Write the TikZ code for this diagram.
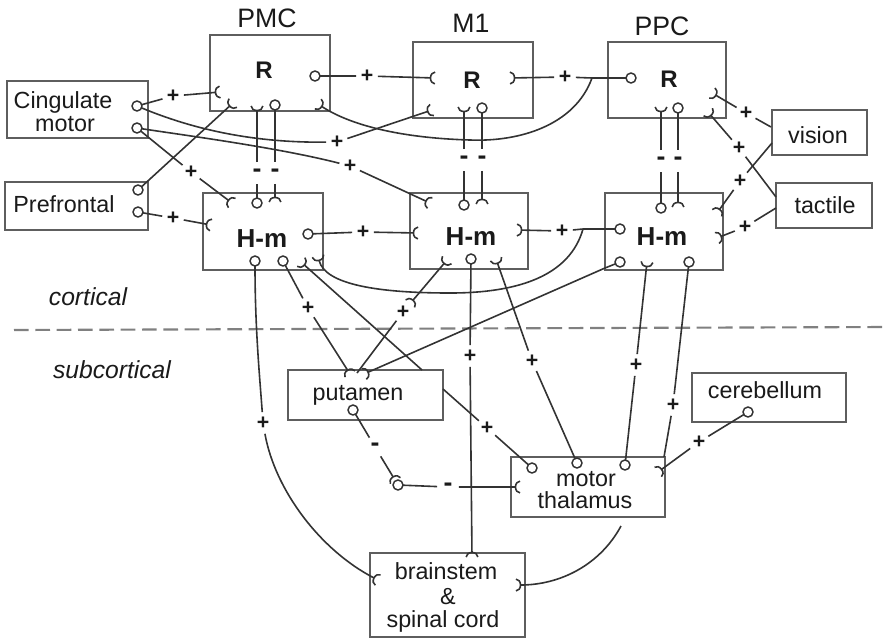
\documentclass[tikz,border=0pt]{standalone}
\usepackage{fontspec}
\setmainfont{Liberation Sans}
\usetikzlibrary{arrows.meta}
\definecolor{ink}{HTML}{333333}
\definecolor{frame}{HTML}{5E5E5E}
\definecolor{txt}{HTML}{1A1A1A}
\definecolor{rule}{HTML}{808080}
\tikzset{
  syn/.tip={Arc Barb[reversed,width=10pt,length=4pt]},
  link/.style={draw=ink,line width=1.2pt,line join=round},
  wire/.style={link,-syn},
  area/.style={draw=frame,line width=1.4pt,fill=white,inner sep=0pt,outer sep=0pt},
  term/.style={circle,draw=ink,line width=1.1pt,fill=white,minimum size=7.5pt,inner sep=0pt,outer sep=0pt},
  sign/.style={circle,inner sep=0pt,minimum size=16pt,text=txt,font=\fontsize{16}{16}\selectfont\bfseries},
  minus/.style={sign,font=\fontsize{20}{20}\selectfont\bfseries},
  lbl/.style={anchor=base,inner sep=0pt,text=txt,font=\fontsize{17.5}{18}\selectfont},
  head/.style={lbl,font=\fontsize{20}{20}\selectfont},
  level/.style={lbl,font=\fontsize{18}{18}\selectfont\bfseries},
  hm/.style={lbl,font=\fontsize{19.5}{20}\selectfont\bfseries},
  region/.style={lbl,font=\fontsize{18.5}{18}\selectfont\itshape},
  divider/.style={draw=rule,line width=1.6pt,dash pattern=on 11pt off 5pt},
}
% box given by its corners (x1,y1) (x2,y2) in pixel units
\newcommand\areabox[5]{\node[area,minimum width={(#4-#2)*0.75pt},minimum height={(#5-#3)*0.75pt}] (#1) at ({(#2+#4)/2},{(#3+#5)/2}) {};}
\begin{document}
\begin{tikzpicture}[x=0.75pt,y=-0.75pt]
\useasboundingbox (0,0) rectangle (888,640);

% cortical / subcortical border
\coordinate (dl) at (14,330);
\coordinate (dr) at (888,327);
\draw[divider] (dl) -- (dr);

% boxes
\areabox{pmcR}{210}{35}{330}{111}
\areabox{mR}{413}{42}{533}{118}
\areabox{ppR}{608}{42}{726}{118}
\areabox{pmcH}{203}{193}{323}{270}
\areabox{mH}{410}{193}{528}{269}
\areabox{ppH}{605}{193}{723}{270}
\areabox{cing}{7}{81}{148}{138}
\areabox{pref}{5}{182}{148}{230}
\areabox{vis}{772}{110}{867}{155}
\areabox{tac}{776}{183}{872}{228}
\areabox{put}{288}{370}{443}{420}
\areabox{cer}{692}{373}{846}{422}
\areabox{thal}{511}{457}{665}{517}
\areabox{bs}{370}{553}{525}{637}

% labels
\node[head] (tPMC) at (267,27) {PMC};
\node[head] (tM1) at (471,32) {M1};
\node[head] (tPPC) at (662,35) {PPC};
\node[level] (r1) at (264,78) {R};
\node[level] (r2) at (472,88) {R};
\node[level] (r3) at (669,87) {R};
\node[hm] (h1) at (262,247) {H-m};
\node[hm] (h2) at (471,245) {H-m};
\node[hm] (h3) at (662,245) {H-m};
\node[lbl] (tc1) at (63,108) {Cingulate};
\node[lbl] (tc2) at (65,131) {motor};
\node[lbl] (tpf) at (64,212) {Prefrontal};
\node[lbl] (tvis) at (818,143) {vision};
\node[lbl] (ttac) at (825,213) {tactile};
\node[lbl] (tput) at (358,400) {putamen};
\node[lbl] (tcer) at (765,398) {cerebellum};
\node[lbl] (tth1) at (586,486) {motor};
\node[lbl] (tth2) at (585,508) {thalamus};
\node[lbl] (tbs1) at (446,579) {brainstem};
\node[lbl] (tbs2) at (448,604) {\&};
\node[lbl] (tbs3) at (443,627) {spinal cord};
\node[region] (tcort) at (88,305) {cortical};
\node[region] (tsub) at (112,378) {subcortical};

% output terminals
\node[term] (cg1) at (137,106) {};
\node[term] (cg2) at (137,128) {};
\node[term] (pf1) at (138,190) {};
\node[term] (pf2) at (138,212) {};
\node[term] (pmcRo) at (315,76) {};
\node[term] (pmcRb) at (275,105) {};
\node[term] (mRb) at (482,108) {};
\node[term] (ppRo) at (631,78) {};
\node[term] (ppRb) at (678,108) {};
\node[term] (pmcHt) at (257,203) {};
\node[term] (pmcHo) at (308,234) {};
\node[term] (pmcHb1) at (255,261) {};
\node[term] (pmcHb2) at (283,261) {};
\node[term] (mHt) at (464,205) {};
\node[term] (mHb) at (471,259) {};
\node[term] (ppHo) at (620,229) {};
\node[term] (ppHt) at (661,208) {};
\node[term] (ppHb1) at (620,262) {};
\node[term] (ppHb2) at (689,262) {};
\node[term] (putb) at (353,410) {};
\node[term] (gpo) at (398,485) {};
\node[term] (cerb) at (748,412) {};
\node[term] (th1) at (532,468) {};
\node[term] (th2) at (577,463) {};
\node[term] (th3) at (625,465) {};

% synaptic endings
\coordinate (fa1) at (220,92);
\coordinate (fa2) at (432,110);
\coordinate (fa3) at (430,203);
\coordinate (fa4) at (232,203);
\coordinate (fa5) at (233,103);
\coordinate (fa6) at (211,225);
\coordinate (fb1) at (435,78);
\coordinate (fb2) at (510,78);
\coordinate (fb3) at (318,104);
\coordinate (fc1) at (257,106);
\coordinate (fc2) at (275,202);
\coordinate (fc3) at (464,107);
\coordinate (fc4) at (482,204);
\coordinate (fc5) at (661,107);
\coordinate (fc6) at (678,207);
\coordinate (fd1) at (712,93);
\coordinate (fd2) at (708,112);
\coordinate (fd3) at (717,213);
\coordinate (fd4) at (717,238);
\coordinate (fe1) at (418,233);
\coordinate (fe2) at (517,230);
\coordinate (fe3) at (318,256);
\coordinate (fe4) at (496,259);
\coordinate (fe5) at (301,262);
\coordinate (fe6) at (647,262);
\coordinate (fm) at (447,260);
\coordinate (fp1) at (350,374);
\coordinate (fp2) at (357,373);
\coordinate (fp3) at (364,374);
\coordinate (fg1) at (378,580);
\coordinate (fg2) at (472,557);
\coordinate (fg3) at (516,585);
\coordinate (fh1) at (658,472);
\coordinate (fh2) at (520,487);

% branch points and free ends
\coordinate (j1) at (592,78);
\coordinate (j2) at (583,229);
\coordinate (j3) at (605,268);
\coordinate (jt) at (664,457);
\coordinate (k1) at (422,370);
\coordinate (k2) at (443,389);
\coordinate (tb) at (621,526);
\coordinate (v1) at (771,127);
\coordinate (v2) at (772,143);
\coordinate (t1) at (776,197);
\coordinate (t2) at (776,208);

% signs
\node[sign] (s1) at (173,96) {+};
\node[sign] (s2) at (337,142) {+};
\node[sign] (s3) at (350,166) {+};
\node[sign] (s4) at (191,172) {+};
\node[sign] (s5) at (173,218) {+};
\node[sign] (s6) at (367,76) {+};
\node[sign] (s7) at (565,77) {+};
\node[sign] (s8) at (746,113) {+};
\node[sign] (s9) at (739,148) {+};
\node[sign] (s10) at (740,181) {+};
\node[sign] (s11) at (745,227) {+};
\node[sign] (s12) at (363,232) {+};
\node[sign] (s13) at (562,231) {+};
\node[sign] (s14) at (308,308) {+};
\node[sign] (s15) at (403,312) {+};
\node[sign] (s16) at (263,423) {+};
\node[sign] (s17) at (470,356) {+};
\node[sign] (s18) at (532,361) {+};
\node[sign] (s19) at (487,428) {+};
\node[sign] (s20) at (636,365) {+};
\node[sign] (s21) at (673,405) {+};
\node[sign] (s22) at (699,442) {+};
\node[minus] (d1) at (257,173) {-};
\node[minus] (d2) at (275,173) {-};
\node[minus] (d3) at (464,160) {-};
\node[minus] (d4) at (482,160) {-};
\node[minus] (d5) at (661,161) {-};
\node[minus] (d6) at (678,161) {-};
\node[minus] (d7) at (375,447) {-};
\node[minus] (d8) at (448,487) {-};

% cingulate and prefrontal inputs
\draw[wire] (cg1) -- (s1) -- (fa1);
\draw[wire] (cg1) .. controls (190,128) and (250,143) .. (s2) -- (fa2);
\draw[wire] (cg2) .. controls (190,136) and (280,148) .. (s3) -- (fa3);
\draw[wire] (cg2) -- (s4) -- (fa4);
\draw[wire] (pf1) -- (fa5);
\draw[wire] (pf2) -- (s5) -- (fa6);

% R level
\draw[wire] (pmcRo) -- (s6) -- (fb1);
\draw[link] (ppRo) -- (j1);
\draw[wire] (j1) -- (s7) -- (fb2);
\draw[wire] (j1) .. controls (575,125) and (520,142) .. (470,140) .. controls (400,138) and (350,125) .. (fb3);

% loops between R and H-m
\draw[wire] (pmcHt) -- (d1) -- (fc1);
\draw[wire] (pmcRb) -- (d2) -- (fc2);
\draw[wire] (mHt) -- (d3) -- (fc3);
\draw[wire] (mRb) -- (d4) -- (fc4);
\draw[wire] (ppHt) -- (d5) -- (fc5);
\draw[wire] (ppRb) -- (d6) -- (fc6);

% vision and tactile inputs
\draw[wire] (v1) -- (s8) -- (fd1);
\draw[wire] (t1) -- (s9) -- (fd2);
\draw[wire] (v2) -- (s10) -- (fd3);
\draw[wire] (t2) -- (s11) -- (fd4);

% H-m level
\draw[wire] (pmcHo) -- (s12) -- (fe1);
\draw[link] (ppHo) -- (j2);
\draw[wire] (j2) -- (s13) -- (fe2);
\draw[wire] (j2) .. controls (570,275) and (520,293) .. (450,293) .. controls (380,293) and (325,285) .. (fe3);

% subcortical pathways
\draw[wire] (pmcHb1) .. controls (255,330) and (260,380) .. (s16) .. controls (275,490) and (320,550) .. (fg1);
\draw[wire] (pmcHb2) -- (s14) -- (fp1);
\draw[link,syn-syn] (fp2) -- (s15) -- (fm);
\draw[wire] (ppHb1) -- (j3) -- (fp3);
\draw[wire] (mHb) -- (s17) -- (fg2);
\draw[wire] (th2) -- (s18) -- (fe4);
\draw[link] (th1) -- (s19) -- (k2);
\draw[wire] (k1) -- (fe5);
\draw[wire] (th3) -- (s20) -- (fe6);
\draw[link] (ppHb2) -- (s21) -- (jt);
\draw[wire] (cerb) -- (s22) -- (fh1);
\draw[wire] (putb) -- (d7) -- (gpo);
\draw[wire] (gpo) -- (d8) -- (fh2);
\draw[wire] (tb) .. controls (600,565) and (560,585) .. (fg3);
\end{tikzpicture}
\end{document}
